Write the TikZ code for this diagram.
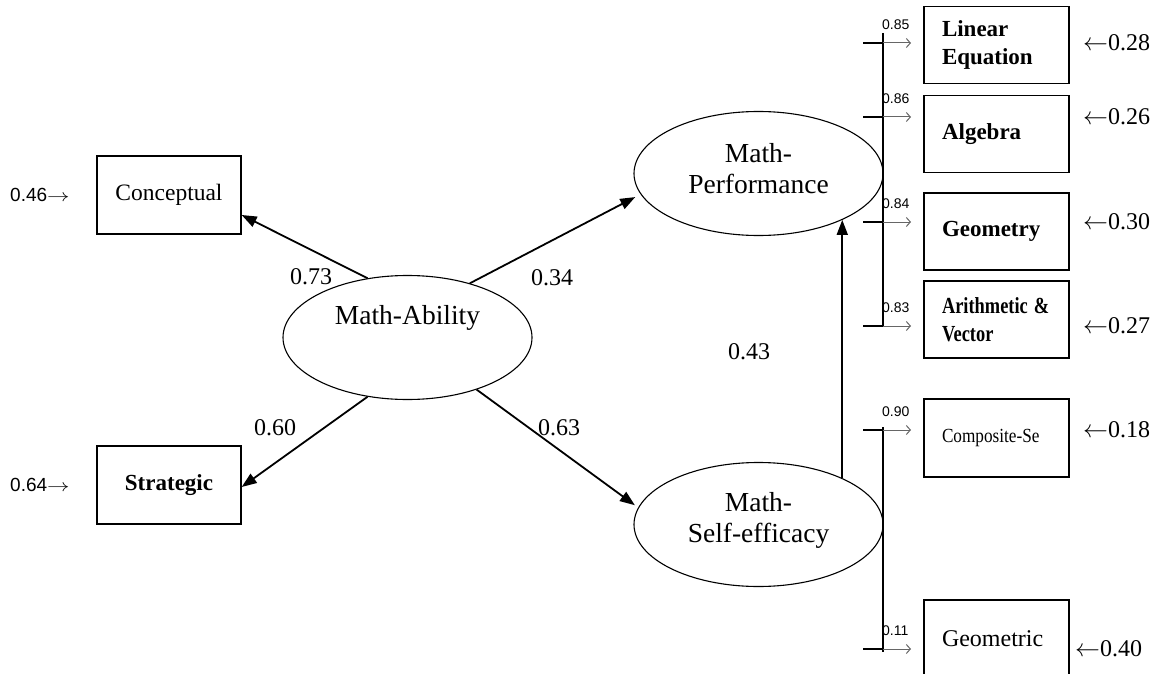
\documentclass[tikz,border=0pt]{standalone}
\usepackage{fontspec}
\usepackage{graphicx}
\setmainfont{Liberation Serif}
\newfontfamily\arialfont{Liberation Sans}
\usetikzlibrary{shapes.geometric,arrows.meta}
\begin{document}
\begin{tikzpicture}[x=1pt,y=-1pt,
  ell/.style={draw, line width=1.1pt, ellipse, minimum width=249pt, minimum height=124pt, inner sep=0pt},
  elltext/.style={align=center, font=\fontsize{27.5}{31}\selectfont},
  lbox/.style={draw, line width=1.3pt, minimum width=144pt, minimum height=78pt, inner sep=0pt},
  rbox/.style={draw, line width=1.3pt, minimum width=145pt, minimum height=77pt, text width=109pt, inner xsep=18pt, inner ysep=0pt, align=left, font=\bfseries\fontsize{23}{28}\selectfont},
  pa/.style={line width=1.8pt, -{Triangle[length=15pt,width=11pt]}},
  coef/.style={font=\fontsize{24}{26}\selectfont, inner sep=0pt},
  errr/.style={font=\fontsize{24}{26}\selectfont, anchor=west, inner sep=0pt},
  errl/.style={font=\arialfont\fontsize{19}{21}\selectfont, anchor=west, inner sep=0pt},
  small/.style={font=\arialfont\fontsize{14}{16}\selectfont, anchor=west, inner sep=0pt},
  vline/.style={line width=1.1pt},
  ticktab/.style={line width=2.8pt},
  tickarrow/.style={line width=1pt, black!60, -{Straight Barb[length=4pt,width=9pt]}}
]
\useasboundingbox (0,0) rectangle (1154,674);
\clip (0,0) rectangle (1154,674);

% latent variables
\node[ell, label={[elltext, yshift=19.5pt]center:Math-Ability}] (ma) at (407.5,337.5) {};
\node[ell, label={[elltext, yshift=5pt]center:Math-\\Performance}] (mp) at (758.5,173.5) {};
\node[ell, label={[elltext, yshift=4pt]center:Math-\\Self-efficacy}] (ms) at (758.5,524.5) {};

% left indicators
\node[lbox, font=\fontsize{23.5}{26}\selectfont] (con) at (169,195) {Conceptual};
\node[lbox, font=\bfseries\fontsize{23}{26}\selectfont] (str) at (169,485) {Strategic};
\node[errl] (econ) at (10,195) {0.46\scalebox{1.3}[1]{$\rightarrow$}};
\node[errl] (estr) at (10,485) {0.64\scalebox{1.3}[1]{$\rightarrow$}};

% right indicators
\node[rbox] (lin) at (996.5,45) {Linear\\Equation};
\node[rbox] (alg) at (996.5,134) {Algebra};
\node[rbox] (geo) at (996.5,231.5) {Geometry};
\node[rbox] (ari) at (996.5,319.5) {\scalebox{0.8}[1]{Arithmetic \&}\\\scalebox{0.8}[1]{Vector}};
\node[rbox, font=\fontsize{20}{24}\selectfont, minimum height=78pt] (com) at (996.5,438) {\scalebox{0.86}[1]{Composite-Se}};
\node[rbox, font=\fontsize{24}{28}\selectfont, minimum height=78pt] (gmc) at (996.5,639) {Geometric};

\node[errr] (elin) at (1083,43) {$\leftarrow$0.28};
\node[errr] (ealg) at (1083,117) {$\leftarrow$0.26};
\node[errr] (egeo) at (1083,222) {$\leftarrow$0.30};
\node[errr] (eari) at (1083,326) {$\leftarrow$0.27};
\node[errr] (ecom) at (1083,430) {$\leftarrow$0.18};
\node[errr] (egmc) at (1075,649) {$\leftarrow$0.40};

% structural paths
\draw[pa] (ma.124) -- ([yshift=-20pt]con.east);
\draw[pa] (ma.236) -- ([yshift=-2pt]str.east);
\draw[pa, shorten >=6pt] (ma.41) -- (mp.190);
\draw[pa, shorten >=4pt] (ma.323) -- (ms.172);
\draw[pa] (ms.29) -- (mp.331);

\node[coef] (c1) at (311,277) {0.73};
\node[coef] (c2) at (552,278) {0.34};
\node[coef] (c3) at (275,428) {0.60};
\node[coef] (c4) at (559,428) {0.63};
\node[coef] (c5) at (749,352) {0.43};

% measurement bars on the right
\coordinate (top1) at (883,33);
\coordinate (bot1) at (883,326);
\coordinate (top2) at (883,427);
\coordinate (bot2) at (883,652);
\draw[vline] (top1) -- (bot1);
\draw[vline] (top2) -- (bot2);

\foreach \yy/\vv/\ii in {43/0.85/1,117/0.86/2,222/0.84/3,326/0.83/4,430/0.90/5,649/0.11/6} {
  \coordinate (t\ii) at (883,\yy);
  \draw[ticktab] ([xshift=-20pt]t\ii) -- (t\ii);
  \draw[tickarrow] (t\ii) -- ([xshift=28pt]t\ii);
  \node[small] (s\ii) at (882,\yy-18) {\vv};
}
\end{tikzpicture}
\end{document}
